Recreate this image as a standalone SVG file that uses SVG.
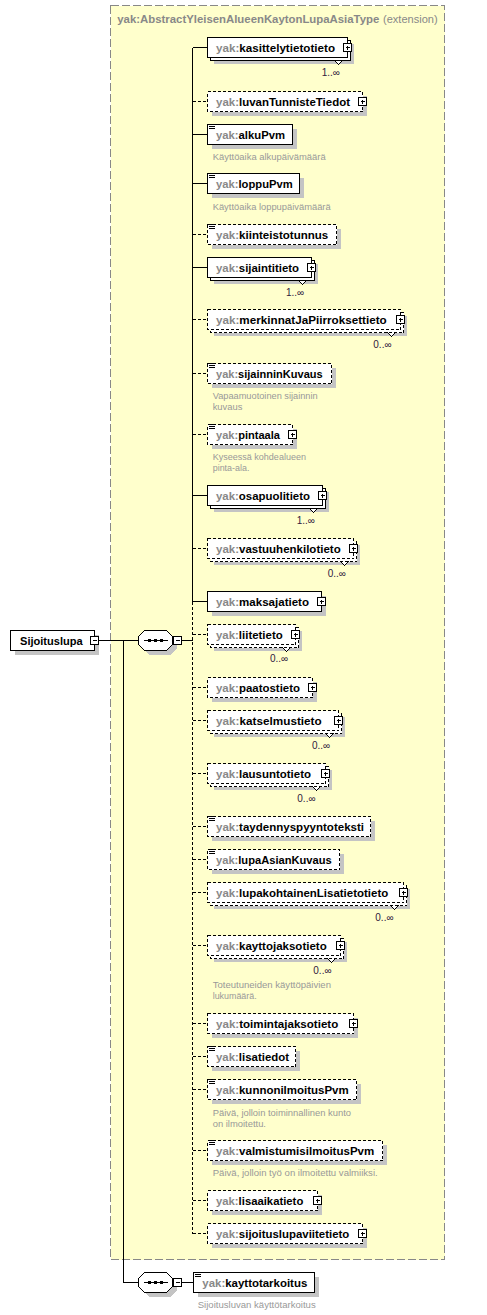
<svg xmlns="http://www.w3.org/2000/svg" width="487" height="1315" viewBox="0 0 487 1315">
<style>
rect,path,polygon,polyline{shape-rendering:crispEdges}
.sh{fill:#c4c4c4}
.b{fill:#fff;stroke:#000}
.d{stroke-dasharray:3,2}
.c{fill:none;stroke:#000}
.cd{fill:none;stroke:#000;stroke-dasharray:3,2}
.t{font-family:"Liberation Sans",Arial,sans-serif;font-weight:bold;font-size:11px;fill:#000}
.p{fill:#888}
.ds{font-family:"Liberation Sans",Arial,sans-serif;font-size:9px;fill:#999}
.m{font-family:"Liberation Sans",Arial,sans-serif;font-size:10px;fill:#302040}
.ti{font-family:"Liberation Sans",Arial,sans-serif;font-size:11px;fill:#888}
</style>
<rect width="487" height="1315" fill="#fff"/>
<g id="extension">
<rect x="110.5" y="5.5" width="334" height="1254" fill="#ffffcc" stroke="#888" stroke-dasharray="8,3"/>
<text class="ti" x="117.3" y="22.5" font-weight="bold" textLength="262" lengthAdjust="spacingAndGlyphs">yak:AbstractYleisenAlueenKaytonLupaAsiaType</text>
<text class="ti" x="383" y="22.5" textLength="54.7" lengthAdjust="spacingAndGlyphs">(extension)</text>
</g>
<g id="connectors">
<path class="c" d="M192.5 47.5V601.5"/>
<path class="cd" d="M192.5 601.5V1233.5"/>
<path class="c" d="M192.5 47.5H207.5M192.5 134.5H207.5M192.5 183.5H207.5M192.5 267.5H207.5M192.5 495.5H207.5M192.5 601.5H207.5"/>
<path class="cd" d="M192.5 101.5H207.5M192.5 234.5H207.5M192.5 319.5H207.5M192.5 373.5H207.5M192.5 434.5H207.5M192.5 548.5H207.5M192.5 634.5H207.5M192.5 687.5H207.5M192.5 720.5H207.5M192.5 773.5H207.5M192.5 826.5H207.5M192.5 859.5H207.5M192.5 892.5H207.5M192.5 945.5H207.5M192.5 1023.5H207.5M192.5 1056.5H207.5M192.5 1089.5H207.5M192.5 1150.5H207.5M192.5 1200.5H207.5M192.5 1233.5H207.5"/>
<path class="c" d="M98.5 640.5H138.5M123.5 640.5V1282.5H138.5M181.5 640.5H192.5M181.5 1282.5H193.5"/>
</g>
<g id="Sijoituslupa">
<rect class="sh" x="14.5" y="634.5" width="84" height="20"/>
<rect class="b" x="10.5" y="630.5" width="84" height="20"/>
<text class="t" x="20" y="644.5" textLength="62.7" lengthAdjust="spacingAndGlyphs">Sijoituslupa</text>
<rect class="b" x="90.5" y="636.5" width="8" height="8"/>
<path class="c" d="M92.5 640.5h4"/>
</g>
<g id="sequence1">
<polygon class="sh" points="148.5,634.5 170.5,634.5 176.5,640.5 176.5,648.5 170.5,654.5 148.5,654.5 142.5,648.5 142.5,640.5"/>
<polygon class="b" points="144.5,630.5 166.5,630.5 172.5,636.5 172.5,644.5 166.5,650.5 144.5,650.5 138.5,644.5 138.5,636.5"/>
<path class="c" d="M143.5 640.5H167.5"/>
<rect x="148" y="639" width="3" height="3"/><rect x="154" y="639" width="3" height="3"/><rect x="160" y="639" width="3" height="3"/>
<rect class="b" x="173.5" y="636.5" width="8" height="8"/>
<path class="c" d="M175.5 640.5h4"/>
</g>
<g id="kasittelytietotieto">
<rect class="sh" x="213.5" y="43.5" width="140" height="20"/>
<rect class="b" x="210.5" y="40.5" width="140" height="20"/>
<rect class="b" x="207.5" y="37.5" width="140" height="20"/>
<text class="t" x="216" y="51.5" textLength="119" lengthAdjust="spacingAndGlyphs"><tspan class="p">yak:</tspan>kasittelytietotieto</text>
<rect class="b" x="343.5" y="43.5" width="8" height="8"/><path class="c" d="M345.5 47.5h4M347.5 45.5v4"/>
<polyline class="b" points="334.5,60.5 338.5,64.5 342.5,60.5"/>
<text class="m" x="321.7" y="76">1..∞</text>
</g>
<g id="luvanTunnisteTiedot">
<rect class="sh" x="211.5" y="95.5" width="155" height="20"/>
<rect class="b d" x="207.5" y="91.5" width="155" height="20"/>
<text class="t" x="216" y="105.5" textLength="134" lengthAdjust="spacingAndGlyphs"><tspan class="p">yak:</tspan>luvanTunnisteTiedot</text>
<rect class="b" x="358.5" y="97.5" width="8" height="8"/><path class="c" d="M360.5 101.5h4M362.5 99.5v4"/>
</g>
<g id="alkuPvm">
<rect class="sh" x="211.5" y="128.5" width="85" height="20"/>
<rect class="b" x="207.5" y="124.5" width="85" height="20"/>
<path class="c" d="M209 124.5h6M209 126.5h6M209 128.5h6"/>
<text class="t" x="216" y="138.5" textLength="69" lengthAdjust="spacingAndGlyphs"><tspan class="p">yak:</tspan>alkuPvm</text>
<text class="ds" x="212.7" y="160" textLength="113" lengthAdjust="spacingAndGlyphs">Käyttöaika alkupäivämäärä</text>
</g>
<g id="loppuPvm">
<rect class="sh" x="211.5" y="177.5" width="92" height="20"/>
<rect class="b" x="207.5" y="173.5" width="92" height="20"/>
<path class="c" d="M209 173.5h6M209 175.5h6M209 177.5h6"/>
<text class="t" x="216" y="187.5" textLength="76.7" lengthAdjust="spacingAndGlyphs"><tspan class="p">yak:</tspan>loppuPvm</text>
<text class="ds" x="212.7" y="210" textLength="118" lengthAdjust="spacingAndGlyphs">Käyttöaika loppupäivämäärä</text>
</g>
<g id="kiinteistotunnus">
<rect class="sh" x="211.5" y="228.5" width="129" height="20"/>
<rect class="b d" x="207.5" y="224.5" width="129" height="20"/>
<path class="c" d="M209 224.5h6M209 226.5h6M209 228.5h6"/>
<text class="t" x="216" y="238.5" textLength="112.3" lengthAdjust="spacingAndGlyphs"><tspan class="p">yak:</tspan>kiinteistotunnus</text>
</g>
<g id="sijaintitieto">
<rect class="sh" x="213.5" y="263.5" width="104" height="20"/>
<rect class="b" x="210.5" y="260.5" width="104" height="20"/>
<rect class="b" x="207.5" y="257.5" width="104" height="20"/>
<text class="t" x="216" y="271.5" textLength="83" lengthAdjust="spacingAndGlyphs"><tspan class="p">yak:</tspan>sijaintitieto</text>
<rect class="b" x="307.5" y="263.5" width="8" height="8"/><path class="c" d="M309.5 267.5h4M311.5 265.5v4"/>
<polyline class="b" points="298.5,280.5 302.5,284.5 306.5,280.5"/>
<text class="m" x="286" y="295.5">1..∞</text>
</g>
<g id="merkinnatJaPiirroksettieto">
<rect class="sh" x="213.5" y="315.5" width="193" height="20"/>
<rect class="b d" x="210.5" y="312.5" width="193" height="20"/>
<rect class="b d" x="207.5" y="309.5" width="193" height="20"/>
<text class="t" x="216" y="323.5" textLength="170.7" lengthAdjust="spacingAndGlyphs"><tspan class="p">yak:</tspan>merkinnatJaPiirroksettieto</text>
<rect class="b" x="396.5" y="315.5" width="8" height="8"/><path class="c" d="M398.5 319.5h4M400.5 317.5v4"/>
<polyline class="b" points="387.5,332.5 391.5,336.5 395.5,332.5"/>
<text class="m" x="373.3" y="347.5">0..∞</text>
</g>
<g id="sijainninKuvaus">
<rect class="sh" x="211.5" y="367.5" width="124" height="20"/>
<rect class="b d" x="207.5" y="363.5" width="124" height="20"/>
<path class="c" d="M209 363.5h6M209 365.5h6M209 367.5h6"/>
<text class="t" x="216" y="377.5" textLength="106.7" lengthAdjust="spacingAndGlyphs"><tspan class="p">yak:</tspan>sijainninKuvaus</text>
<text class="ds" x="212.7" y="398.5" textLength="105" lengthAdjust="spacingAndGlyphs">Vapaamuotoinen sijainnin</text>
<text class="ds" x="212.7" y="409.5" textLength="29.7" lengthAdjust="spacingAndGlyphs">kuvaus</text>
</g>
<g id="pintaala">
<rect class="sh" x="211.5" y="428.5" width="85" height="20"/>
<rect class="b d" x="207.5" y="424.5" width="85" height="20"/>
<path class="c" d="M209 424.5h6M209 426.5h6M209 428.5h6"/>
<text class="t" x="216" y="438.5" textLength="64" lengthAdjust="spacingAndGlyphs"><tspan class="p">yak:</tspan>pintaala</text>
<rect class="b" x="288.5" y="430.5" width="8" height="8"/><path class="c" d="M290.5 434.5h4M292.5 432.5v4"/>
<text class="ds" x="212.7" y="459.5" textLength="93.3" lengthAdjust="spacingAndGlyphs">Kyseessä kohdealueen</text>
<text class="ds" x="212.7" y="470.5" textLength="36.7" lengthAdjust="spacingAndGlyphs">pinta-ala.</text>
</g>
<g id="osapuolitieto">
<rect class="sh" x="213.5" y="491.5" width="115" height="20"/>
<rect class="b" x="210.5" y="488.5" width="115" height="20"/>
<rect class="b" x="207.5" y="485.5" width="115" height="20"/>
<text class="t" x="216" y="499.5" textLength="94" lengthAdjust="spacingAndGlyphs"><tspan class="p">yak:</tspan>osapuolitieto</text>
<rect class="b" x="318.5" y="491.5" width="8" height="8"/><path class="c" d="M320.5 495.5h4M322.5 493.5v4"/>
<polyline class="b" points="309.5,508.5 313.5,512.5 317.5,508.5"/>
<text class="m" x="296.7" y="523.5">1..∞</text>
</g>
<g id="vastuuhenkilotieto">
<rect class="sh" x="213.5" y="544.5" width="146" height="20"/>
<rect class="b d" x="210.5" y="541.5" width="146" height="20"/>
<rect class="b d" x="207.5" y="538.5" width="146" height="20"/>
<text class="t" x="216" y="552.5" textLength="124.7" lengthAdjust="spacingAndGlyphs"><tspan class="p">yak:</tspan>vastuuhenkilotieto</text>
<rect class="b" x="349.5" y="544.5" width="8" height="8"/><path class="c" d="M351.5 548.5h4M353.5 546.5v4"/>
<polyline class="b" points="340.5,561.5 344.5,565.5 348.5,561.5"/>
<text class="m" x="327.7" y="576.5">0..∞</text>
</g>
<g id="maksajatieto">
<rect class="sh" x="211.5" y="595.5" width="114" height="20"/>
<rect class="b" x="207.5" y="591.5" width="114" height="20"/>
<text class="t" x="216" y="605.5" textLength="93" lengthAdjust="spacingAndGlyphs"><tspan class="p">yak:</tspan>maksajatieto</text>
<rect class="b" x="317.5" y="597.5" width="8" height="8"/><path class="c" d="M319.5 601.5h4M321.5 599.5v4"/>
</g>
<g id="liitetieto">
<rect class="sh" x="213.5" y="630.5" width="88" height="20"/>
<rect class="b d" x="210.5" y="627.5" width="88" height="20"/>
<rect class="b d" x="207.5" y="624.5" width="88" height="20"/>
<text class="t" x="216" y="638.5" textLength="66.7" lengthAdjust="spacingAndGlyphs"><tspan class="p">yak:</tspan>liitetieto</text>
<rect class="b" x="291.5" y="630.5" width="8" height="8"/><path class="c" d="M293.5 634.5h4M295.5 632.5v4"/>
<polyline class="b" points="282.5,647.5 286.5,651.5 290.5,647.5"/>
<text class="m" x="270" y="662">0..∞</text>
</g>
<g id="paatostieto">
<rect class="sh" x="211.5" y="681.5" width="105" height="20"/>
<rect class="b d" x="207.5" y="677.5" width="105" height="20"/>
<text class="t" x="216" y="691.5" textLength="84" lengthAdjust="spacingAndGlyphs"><tspan class="p">yak:</tspan>paatostieto</text>
<rect class="b" x="308.5" y="683.5" width="8" height="8"/><path class="c" d="M310.5 687.5h4M312.5 685.5v4"/>
</g>
<g id="katselmustieto">
<rect class="sh" x="213.5" y="716.5" width="131" height="20"/>
<rect class="b d" x="210.5" y="713.5" width="131" height="20"/>
<rect class="b d" x="207.5" y="710.5" width="131" height="20"/>
<text class="t" x="216" y="724.5" textLength="105.7" lengthAdjust="spacingAndGlyphs"><tspan class="p">yak:</tspan>katselmustieto</text>
<rect class="b" x="334.5" y="716.5" width="8" height="8"/><path class="c" d="M336.5 720.5h4M338.5 718.5v4"/>
<polyline class="b" points="325.5,733.5 329.5,737.5 333.5,733.5"/>
<text class="m" x="312" y="748.5">0..∞</text>
</g>
<g id="lausuntotieto">
<rect class="sh" x="213.5" y="769.5" width="118" height="20"/>
<rect class="b d" x="210.5" y="766.5" width="118" height="20"/>
<rect class="b d" x="207.5" y="763.5" width="118" height="20"/>
<text class="t" x="216" y="777.5" textLength="95" lengthAdjust="spacingAndGlyphs"><tspan class="p">yak:</tspan>lausuntotieto</text>
<rect class="b" x="321.5" y="769.5" width="8" height="8"/><path class="c" d="M323.5 773.5h4M325.5 771.5v4"/>
<polyline class="b" points="312.5,786.5 316.5,790.5 320.5,786.5"/>
<text class="m" x="297.3" y="801.5">0..∞</text>
</g>
<g id="taydennyspyyntoteksti">
<rect class="sh" x="211.5" y="820.5" width="163" height="20"/>
<rect class="b d" x="207.5" y="816.5" width="163" height="20"/>
<path class="c" d="M209 816.5h6M209 818.5h6M209 820.5h6"/>
<text class="t" x="216" y="830.5" textLength="148" lengthAdjust="spacingAndGlyphs"><tspan class="p">yak:</tspan>taydennyspyyntoteksti</text>
</g>
<g id="lupaAsianKuvaus">
<rect class="sh" x="211.5" y="853.5" width="132" height="20"/>
<rect class="b d" x="207.5" y="849.5" width="132" height="20"/>
<path class="c" d="M209 849.5h6M209 851.5h6M209 853.5h6"/>
<text class="t" x="216" y="863.5" textLength="115.7" lengthAdjust="spacingAndGlyphs"><tspan class="p">yak:</tspan>lupaAsianKuvaus</text>
</g>
<g id="lupakohtainenLisatietotieto">
<rect class="sh" x="213.5" y="888.5" width="196" height="20"/>
<rect class="b d" x="210.5" y="885.5" width="196" height="20"/>
<rect class="b d" x="207.5" y="882.5" width="196" height="20"/>
<text class="t" x="216" y="896.5" textLength="172.3" lengthAdjust="spacingAndGlyphs"><tspan class="p">yak:</tspan>lupakohtainenLisatietotieto</text>
<rect class="b" x="399.5" y="888.5" width="8" height="8"/><path class="c" d="M401.5 892.5h4M403.5 890.5v4"/>
<polyline class="b" points="390.5,905.5 394.5,909.5 398.5,905.5"/>
<text class="m" x="375.3" y="920.5">0..∞</text>
</g>
<g id="kayttojaksotieto">
<rect class="sh" x="213.5" y="941.5" width="133" height="20"/>
<rect class="b d" x="210.5" y="938.5" width="133" height="20"/>
<rect class="b d" x="207.5" y="935.5" width="133" height="20"/>
<text class="t" x="216" y="949.5" textLength="110.7" lengthAdjust="spacingAndGlyphs"><tspan class="p">yak:</tspan>kayttojaksotieto</text>
<rect class="b" x="336.5" y="941.5" width="8" height="8"/><path class="c" d="M338.5 945.5h4M340.5 943.5v4"/>
<polyline class="b" points="327.5,958.5 331.5,962.5 335.5,958.5"/>
<text class="m" x="313.3" y="973.5">0..∞</text>
<text class="ds" x="212.7" y="988" textLength="118.3" lengthAdjust="spacingAndGlyphs">Toteutuneiden käyttöpäivien</text>
<text class="ds" x="212.7" y="999" textLength="44" lengthAdjust="spacingAndGlyphs">lukumäärä.</text>
</g>
<g id="toimintajaksotieto">
<rect class="sh" x="211.5" y="1017.5" width="146" height="20"/>
<rect class="b d" x="207.5" y="1013.5" width="146" height="20"/>
<text class="t" x="216" y="1027.5" textLength="122.3" lengthAdjust="spacingAndGlyphs"><tspan class="p">yak:</tspan>toimintajaksotieto</text>
<rect class="b" x="349.5" y="1019.5" width="8" height="8"/><path class="c" d="M351.5 1023.5h4M353.5 1021.5v4"/>
</g>
<g id="lisatiedot">
<rect class="sh" x="211.5" y="1050.5" width="88" height="20"/>
<rect class="b d" x="207.5" y="1046.5" width="88" height="20"/>
<path class="c" d="M209 1046.5h6M209 1048.5h6M209 1050.5h6"/>
<text class="t" x="216" y="1060.5" textLength="73" lengthAdjust="spacingAndGlyphs"><tspan class="p">yak:</tspan>lisatiedot</text>
</g>
<g id="kunnonilmoitusPvm">
<rect class="sh" x="211.5" y="1083.5" width="149" height="20"/>
<rect class="b d" x="207.5" y="1079.5" width="149" height="20"/>
<path class="c" d="M209 1079.5h6M209 1081.5h6M209 1083.5h6"/>
<text class="t" x="216" y="1093.5" textLength="132.7" lengthAdjust="spacingAndGlyphs"><tspan class="p">yak:</tspan>kunnonilmoitusPvm</text>
<text class="ds" x="212.7" y="1115.5" textLength="138.3" lengthAdjust="spacingAndGlyphs">Päivä, jolloin toiminnallinen kunto</text>
<text class="ds" x="212.7" y="1126.5" textLength="53.3" lengthAdjust="spacingAndGlyphs">on ilmoitettu.</text>
</g>
<g id="valmistumisilmoitusPvm">
<rect class="sh" x="211.5" y="1144.5" width="175" height="20"/>
<rect class="b d" x="207.5" y="1140.5" width="175" height="20"/>
<path class="c" d="M209 1140.5h6M209 1142.5h6M209 1144.5h6"/>
<text class="t" x="216" y="1154.5" textLength="158.3" lengthAdjust="spacingAndGlyphs"><tspan class="p">yak:</tspan>valmistumisilmoitusPvm</text>
<text class="ds" x="212.7" y="1175.5" textLength="165" lengthAdjust="spacingAndGlyphs">Päivä, jolloin työ on ilmoitettu valmiiksi.</text>
</g>
<g id="lisaaikatieto">
<rect class="sh" x="211.5" y="1194.5" width="110" height="20"/>
<rect class="b d" x="207.5" y="1190.5" width="110" height="20"/>
<text class="t" x="216" y="1204.5" textLength="87.3" lengthAdjust="spacingAndGlyphs"><tspan class="p">yak:</tspan>lisaaikatieto</text>
<rect class="b" x="313.5" y="1196.5" width="8" height="8"/><path class="c" d="M315.5 1200.5h4M317.5 1198.5v4"/>
</g>
<g id="sijoituslupaviitetieto">
<rect class="sh" x="211.5" y="1227.5" width="155" height="20"/>
<rect class="b d" x="207.5" y="1223.5" width="155" height="20"/>
<text class="t" x="216" y="1237.5" textLength="133.3" lengthAdjust="spacingAndGlyphs"><tspan class="p">yak:</tspan>sijoituslupaviitetieto</text>
<rect class="b" x="358.5" y="1229.5" width="8" height="8"/><path class="c" d="M360.5 1233.5h4M362.5 1231.5v4"/>
</g>
<g id="sequence2">
<polygon class="sh" points="148.5,1276.5 170.5,1276.5 176.5,1282.5 176.5,1290.5 170.5,1296.5 148.5,1296.5 142.5,1290.5 142.5,1282.5"/>
<polygon class="b" points="144.5,1272.5 166.5,1272.5 172.5,1278.5 172.5,1286.5 166.5,1292.5 144.5,1292.5 138.5,1286.5 138.5,1278.5"/>
<path class="c" d="M143.5 1282.5H167.5"/>
<rect x="148" y="1281" width="3" height="3"/><rect x="154" y="1281" width="3" height="3"/><rect x="160" y="1281" width="3" height="3"/>
<rect class="b" x="173.5" y="1278.5" width="8" height="8"/>
<path class="c" d="M175.5 1282.5h4"/>
</g>
<g id="kayttotarkoitus">
<rect class="sh" x="197.5" y="1276.5" width="121" height="20"/>
<rect class="b" x="193.5" y="1272.5" width="121" height="20"/>
<path class="c" d="M195 1272.5h6M195 1274.5h6M195 1276.5h6"/>
<text class="t" x="202.3" y="1286.5" textLength="105" lengthAdjust="spacingAndGlyphs"><tspan class="p">yak:</tspan>kayttotarkoitus</text>
<text class="ds" x="197.7" y="1307.5" textLength="118" lengthAdjust="spacingAndGlyphs">Sijoitusluvan käyttötarkoitus</text>
</g>
</svg>
